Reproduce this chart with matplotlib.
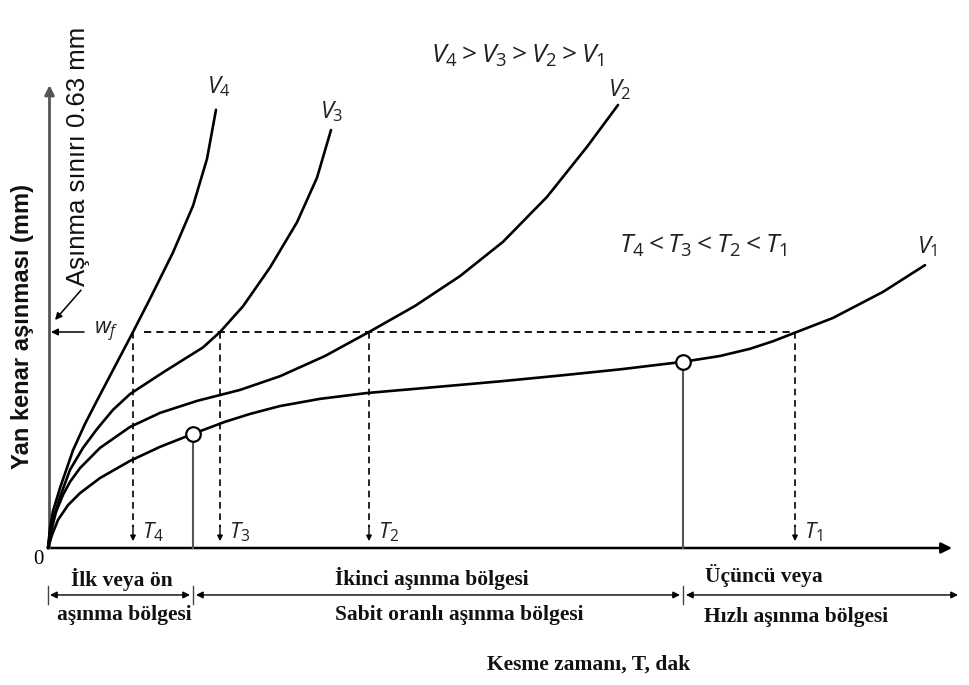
import numpy as np
import matplotlib
matplotlib.use('Agg')
import matplotlib.pyplot as plt

plt.rcParams['mathtext.fontset'] = 'custom'
plt.rcParams['mathtext.it'] = 'Open Sans:italic'
plt.rcParams['mathtext.rm'] = 'Open Sans'
plt.rcParams['mathtext.bf'] = 'Open Sans:bold'

# ---------------- data (cutting time T, flank wear mm) ----------------
v4_t = [0, 0.2, 0.5, 1.2, 2.5, 3.7, 4.9, 6.7, 8.5, 10.2, 12.5, 14.5, 15.9, 16.8]
v4_w = [0, 0.058, 0.108, 0.175, 0.285, 0.362, 0.430, 0.530, 0.630, 0.727, 0.862, 0.998, 1.135, 1.278]

v3_t = [0, 0.2, 0.6, 1.2, 2.2, 3.5, 4.9, 6.5, 8.2, 11.5, 15.5, 17.2, 19.5, 22.2, 24.9, 26.9, 28.3]
v3_w = [0, 0.044, 0.093, 0.149, 0.228, 0.292, 0.347, 0.403, 0.449, 0.512, 0.585, 0.630, 0.705, 0.818, 0.950, 1.080, 1.219]

v2_t = [0, 0.3, 0.8, 1.5, 2.2, 3.2, 5.2, 8.2, 11.2, 14.9, 19.2, 23.2, 27.7, 32.1, 36.7, 41.2, 45.5, 49.9, 53.9, 57.0]
v2_w = [0, 0.047, 0.105, 0.155, 0.193, 0.233, 0.292, 0.353, 0.394, 0.429, 0.461, 0.501, 0.560, 0.630, 0.706, 0.793, 0.893, 1.024, 1.170, 1.292]

v1_t = [0, 0.4, 1.0, 2.0, 3.2, 5.2, 8.2, 11.2, 14.5, 17.7, 20.2, 23.2, 27.2, 31.9, 38.2, 45.2, 51.2, 57.2, 63.5, 67.2, 70.2, 72.5, 74.7, 78.5, 83.5, 87.7]
v1_w = [0, 0.038, 0.082, 0.125, 0.160, 0.204, 0.254, 0.295, 0.333, 0.368, 0.391, 0.414, 0.435, 0.452, 0.468, 0.486, 0.503, 0.521, 0.543, 0.560, 0.581, 0.603, 0.628, 0.671, 0.747, 0.825]

wear_limit = 0.63
tool_life = [8.5, 17.2, 32.1, 74.7]
tool_life_labels = ['$T_4$', '$T_3$', '$T_2$', '$T_1$']
transition_t = [14.5, 63.5]
transition_w = [0.333, 0.543]
speed_labels = ['$V_4$', '$V_3$', '$V_2$', '$V_1$']
region_top = ['İlk veya ön', 'İkinci aşınma bölgesi', 'Üçüncü veya']
region_bottom = ['aşınma bölgesi', 'Sabit oranlı aşınma bölgesi', 'Hızlı aşınma bölgesi']

# ---------------- figure ----------------
fig = plt.figure(figsize=(9.69, 6.85), dpi=100)
ax = fig.add_axes([0, 0, 1, 1])
ax.set_xlim(-4.8, 92.1)
ax.set_ylim(-0.3996, 1.5983)
ax.axis('off')

curves = [(v4_t, v4_w), (v3_t, v3_w), (v2_t, v2_w), (v1_t, v1_w)]
for t, w in curves:
    ax.plot(t, w, color='black', lw=1.9, solid_capstyle='round', solid_joinstyle='round', zorder=4)

# axes with arrows
ax.annotate('', xy=(90.4, 0), xytext=(0, 0),
            arrowprops=dict(arrowstyle='-|>', lw=1.8, color='black', mutation_scale=16,
                            shrinkA=0, shrinkB=0))
ax.annotate('', xy=(0.15, 1.35), xytext=(0.15, 0),
            arrowprops=dict(arrowstyle='-|>', lw=2.0, color='#555555', mutation_scale=14,
                            shrinkA=0, shrinkB=0))

# wear limit dashed line
dash = (0, (4, 2.8))
ax.plot([tool_life[0] + 1.1, tool_life[3]], [wear_limit, wear_limit], color='black', lw=1.3,
        linestyle=dash, zorder=3)
for T, lab in zip(tool_life, tool_life_labels):
    ax.plot([T, T], [wear_limit, 0.06], color='black', lw=1.2, linestyle=dash, zorder=3)
    ax.annotate('', xy=(T, 0.02), xytext=(T, 0.065),
                arrowprops=dict(arrowstyle='-|>', lw=1.0, color='black', mutation_scale=8,
                                shrinkA=0, shrinkB=0))
    ax.text(T + 0.9, 0.045, lab, fontsize=16, ha='left', va='center', color='#222222')

# transition points
for T, w in zip(transition_t, transition_w):
    ax.plot([T, T], [0, w], color='#555555', lw=1.5, zorder=3)
    ax.plot([T], [w], marker='o', ms=10.5, mfc='white', mec='black', mew=1.6, zorder=5)

# curve labels
lab_kw = dict(fontsize=17, ha='center', va='center', color='#222222')
ax.text(17.1, 1.345, speed_labels[0], **lab_kw)
ax.text(28.4, 1.272, speed_labels[1], **lab_kw)
ax.text(57.2, 1.336, speed_labels[2], **lab_kw)
ax.text(87.9, 0.878, speed_labels[3], **lab_kw)

ax.text(47.0, 1.435, '$V_4 > V_3 > V_2 > V_1$', fontsize=19, ha='center', va='center', color='#222222')
ax.text(65.5, 0.881, '$T_4 < T_3 < T_2 < T_1$', fontsize=19, ha='center', va='center', color='#222222')

# wear limit label and arrows
ax.text(5.8, 0.63, '$w_f$', fontsize=16, ha='center', va='center', color='#222222')
ax.annotate('', xy=(0.3, wear_limit), xytext=(3.6, wear_limit),
            arrowprops=dict(arrowstyle='-|>', lw=1.1, color='black', mutation_scale=10,
                            shrinkA=0, shrinkB=0))
ax.text(3.0, 1.143, 'Aşınma sınırı 0.63 mm', rotation=90, fontsize=18.5, ha='center', va='center',
        family='Liberation Sans', color='#111111')
ax.annotate('', xy=(0.7, 0.665), xytext=(3.3, 0.752),
            arrowprops=dict(arrowstyle='-|>', lw=1.1, color='black', mutation_scale=10,
                            shrinkA=0, shrinkB=0))

ax.text(-2.5, 0.645, 'Yan kenar aşınması (mm)', rotation=90, fontsize=17, fontweight='bold',
        ha='center', va='center', family='Liberation Sans', color='#111111')
ax.text(-1.0, -0.035, '0', fontsize=15, ha='center', va='center', family='Liberation Serif')

# region arrows below axis
yr = -0.137
arr_kw = dict(arrowstyle='<|-|>', lw=1.0, color='black', mutation_scale=10, shrinkA=0, shrinkB=0)
ax.annotate('', xy=(0.2, yr), xytext=(transition_t[0] - 0.3, yr), arrowprops=arr_kw)
ax.annotate('', xy=(transition_t[0] + 0.3, yr), xytext=(transition_t[1] - 0.3, yr), arrowprops=arr_kw)
ax.annotate('', xy=(91.0, yr), xytext=(transition_t[1] + 0.3, yr), arrowprops=arr_kw)
for T in [0] + transition_t:
    ax.plot([T, T], [yr - 0.025, yr + 0.025], color='#444444', lw=1.0)

tf = dict(fontsize=15.5, fontweight='bold', family='Liberation Serif', ha='center', va='center',
          color='#111111')
ax.text(7.4, -0.093, region_top[0], **tf)
ax.text(38.4, -0.088, region_top[1], **tf)
ax.text(71.6, -0.080, region_top[2], **tf)
ax.text(7.6, -0.195, region_bottom[0], **tf)
ax.text(41.1, -0.195, region_bottom[1], **tf)
ax.text(74.8, -0.201, region_bottom[2], **tf)
ax.text(54.1, -0.341, 'Kesme zamanı, T, dak', **tf)

fig.savefig('out.png', dpi=100)
